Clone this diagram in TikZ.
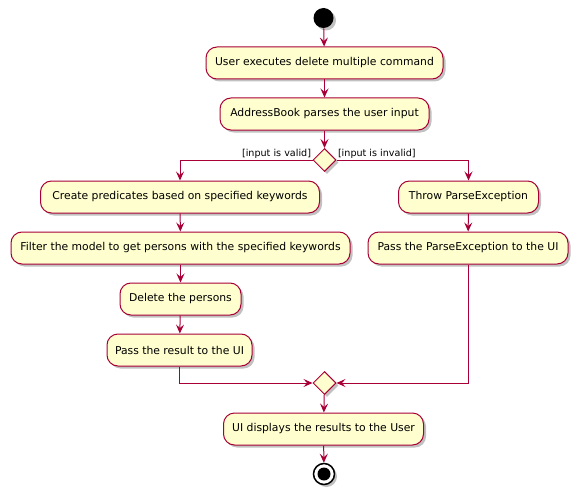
\documentclass[tikz,border=0pt]{standalone}
\usepackage{fontspec}
\setmainfont{DejaVu Sans}
\usetikzlibrary{arrows.meta,shapes.geometric,shadows}
\definecolor{actFill}{HTML}{FEFECE}
\definecolor{actLine}{HTML}{A80036}
\tikzset{
	shade it/.style={drop shadow={shadow xshift=2.5pt,shadow yshift=-2.5pt,opacity=.35,fill=black!70}},
	act/.style={draw=actLine, fill=actFill, rounded corners=11pt, line width=1pt,
		minimum height=32pt, inner xsep=0pt, font=\fontsize{10.8}{13}\selectfont, shade it},
	branch/.style={diamond, draw=actLine, fill=actFill, line width=1pt,
		minimum width=23pt, minimum height=23pt, inner sep=0pt, shade it},
	guard/.style={font=\fontsize{9.6}{11}\selectfont, inner sep=1pt}
}

\begin{document}
\begin{tikzpicture}[x=1pt,y=-1pt,->,>={Stealth[length=9pt,width=8pt,inset=3.5pt]},
line width=1pt, draw=actLine]
\useasboundingbox (0,0) rectangle (583,500);
\node[circle, fill=black, minimum size=20pt, inner sep=0, shade it] (start) at (323.5,18) {};
\node[act, minimum width=237pt] (exec) at (324.5,63) {User executes delete multiple command};
\node[act, minimum width=209pt] (parse) at (324.5,114) {AddressBook parses the user input};
\node[branch] (chk) at (324.5,160) {};
\node[guard, anchor=south east] (lvalid) at (chk.west) {[input is valid]};
\node[guard, anchor=south west] (linvalid) at (chk.east) {[input is invalid]};
% left branch
\node[act, minimum width=279pt] (pred) at (180,197) {Create predicates based on specified keywords};
\node[act, minimum width=339pt] (filter) at (180.5,248) {Filter the model to get persons with the specified keywords};
\node[act, minimum width=121pt] (del) at (180.5,299) {Delete the persons};
\node[act, minimum width=145pt] (passres) at (179.5,350) {Pass the result to the UI};
% right branch
\node[act, minimum width=140pt] (throw) at (468.5,197) {Throw ParseException};
\node[act, minimum width=200pt] (passex) at (468,248) {Pass the ParseException to the UI};
\node[branch] (merge) at (324.5,383) {};
\node[act, minimum width=200pt] (disp) at (323.5,429) {UI displays the results to the User};
\node[circle, draw=black, fill=white, line width=1.5pt, minimum size=21pt, inner sep=0, shade it] (stop) at (324,474) {};
\fill (stop) circle (6.5pt);
\path (start) edge (exec);
\path (exec) edge (parse);
\path (parse) edge (chk);
\draw (chk.west) -| (pred.north);
\draw (chk.east) -| (throw.north);
\path (pred) edge (filter);
\path (filter) edge (del);
\path (del) edge (passres);
\path (throw) edge (passex);
\draw (passres.south) |- (merge.west);
\draw (passex.south) |- (merge.east);
\path (merge) edge (disp);
\path (disp) edge (stop);
\end{tikzpicture}
\end{document}
